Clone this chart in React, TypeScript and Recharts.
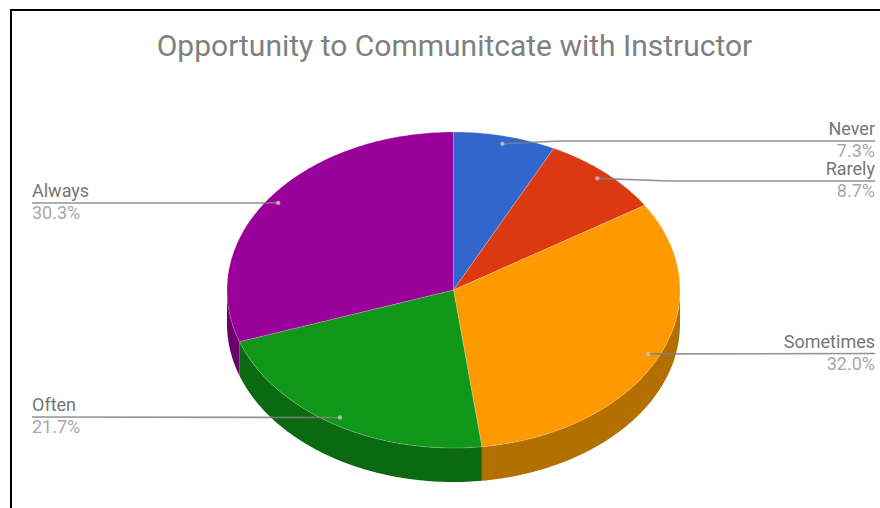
import React from "react";
import { PieChart, Pie } from "recharts";

// Survey responses, in the order the slices run clockwise from twelve o'clock.
const categories = ["Never", "Rarely", "Sometimes", "Often", "Always"];
const shares = [7.3, 8.7, 32.0, 21.7, 30.3];
const topColors = ["#3366cc", "#dc3912", "#ff9900", "#109618", "#990099"];
const wallColors = ["#24478f", "#9a280d", "#b37000", "#0b6911", "#6b006b"];

const chartTitle = "Opportunity to Communitcate with Instructor";
const rows = categories.map((name, i) => ({ name, value: shares[i] }));

// Pie geometry: a tilted disc, so the radius is squashed vertically.
const WIDTH = 880;
const HEIGHT = 508;
const CX = 453.5;
const CY = 290;
const RX = 226.5;
const SQUASH = 158 / 226.5;
const DEPTH = 34;
const TEXT_LEFT = 32;
const TEXT_RIGHT = 875;

// Where each leader line runs horizontally, and where it bends if it bends.
const leaderY: Record<string, number> = { Never: 141, Rarely: 181, Sometimes: 353.5, Often: 417, Always: 203 };
const leaderBend: Record<string, number> = { Never: 560, Rarely: 670 };

const RAD = Math.PI / 180;

function point(cx: number, cy: number, r: number, deg: number) {
  return { x: cx + r * Math.cos(deg * RAD), y: cy - r * SQUASH * Math.sin(deg * RAD) };
}

// Elliptical arc outline, sampled clockwise from one angle down to another.
function arcPoints(cx: number, cy: number, r: number, from: number, to: number) {
  const steps = Math.max(2, Math.ceil(Math.abs(from - to)));
  const out: string[] = [];
  for (let i = 0; i <= steps; i++) {
    const p = point(cx, cy, r, from + ((to - from) * i) / steps);
    out.push(`${p.x.toFixed(2)} ${p.y.toFixed(2)}`);
  }
  return out;
}

function Slice(props: any) {
  const { cx, cy, outerRadius, startAngle, endAngle, index } = props;
  const top = arcPoints(cx, cy, outerRadius, startAngle, endAngle);
  const topPath = `M${cx} ${cy}L${top.join("L")}Z`;

  // The visible wall is the part of the slice lying on the lower half of the rim
  // (math angles -180..0 within the 90..-270 sweep used here).
  const wallFrom = Math.min(startAngle, 0);
  const wallTo = Math.max(endAngle, -180);
  let wall = null;
  if (wallFrom > wallTo) {
    const upper = arcPoints(cx, cy, outerRadius, wallFrom, wallTo);
    const lower = arcPoints(cx, cy + DEPTH, outerRadius, wallTo, wallFrom);
    wall = <path d={`M${upper.join("L")}L${lower.join("L")}Z`} fill={wallColors[index]} stroke="none" />;
  }
  return (
    <g>
      {wall}
      <path d={topPath} fill={topColors[index]} stroke="#ffffff" strokeOpacity={0.35} strokeWidth={0.6} />
    </g>
  );
}

function Leader(props: any) {
  const { cx, cy, outerRadius, midAngle, value } = props;
  const name: string = props.name ?? props.payload?.name;
  const dot = point(cx, cy, outerRadius * 0.95, midAngle);
  const onRight = dot.x > cx;
  const endX = onRight ? TEXT_RIGHT : TEXT_LEFT;
  const y = leaderY[name];
  const bend = leaderBend[name];
  const pts = bend ? `${dot.x},${dot.y} ${bend},${y} ${endX},${y}` : `${dot.x},${dot.y} ${endX},${y}`;
  const anchor = onRight ? "end" : "start";
  return (
    <g>
      <polyline points={pts} fill="none" stroke="#808080" strokeWidth={1.6} strokeOpacity={0.85} />
      <circle cx={dot.x} cy={dot.y} r={2.2} fill="#c8c8c8" fillOpacity={0.8} />
      <text x={endX} y={y - 6} textAnchor={anchor} fontFamily="Roboto" fontSize={18} fill="#757575">
        {name}
      </text>
      <text x={endX} y={y + 16} textAnchor={anchor} fontFamily="Roboto" fontSize={18} fill="#a8a8a8">
        {`${Number(value).toFixed(1)}%`}
      </text>
    </g>
  );
}

export default function App() {
  return (
    <div style={{ position: "absolute", left: 0, top: 0, width: WIDTH, height: HEIGHT, background: "#fff", overflow: "hidden" }}>
      <div
        style={{
          position: "absolute",
          left: 10,
          top: 9,
          width: WIDTH,
          height: HEIGHT,
          borderLeft: "2px solid #000",
          borderTop: "2px solid #000",
        }}
      />
      <div style={{ position: "absolute", left: 0, top: 0 }}>
        <PieChart width={WIDTH} height={HEIGHT} margin={{ top: 0, right: 0, bottom: 0, left: 0 }}>
          <text x={454.5} y={56} textAnchor="middle" fontFamily="Roboto" fontSize={30} fill="#808080">
            {chartTitle}
          </text>
          <Pie
            data={rows}
            dataKey="value"
            nameKey="name"
            cx={CX}
            cy={CY}
            innerRadius={0}
            outerRadius={RX}
            startAngle={90}
            endAngle={-270}
            paddingAngle={0}
            isAnimationActive={false}
            shape={Slice}
            label={Leader}
            labelLine={false}
          />
        </PieChart>
      </div>
    </div>
  );
}
